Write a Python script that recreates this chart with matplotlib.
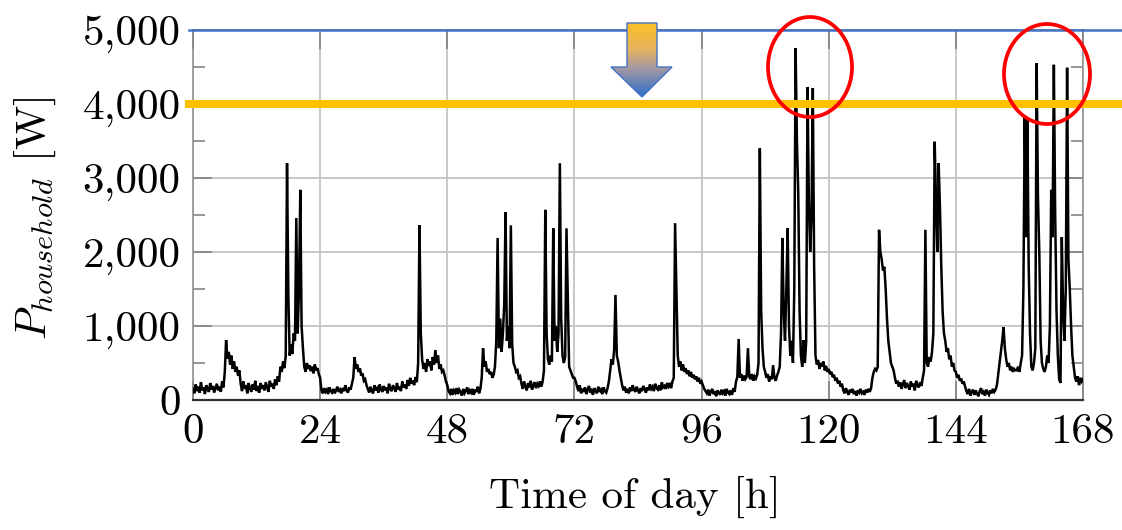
import numpy as np
import matplotlib
matplotlib.use("Agg")
import matplotlib.pyplot as plt
from matplotlib.patches import Ellipse, Polygon
from matplotlib.colors import LinearSegmentedColormap

# ---------------- data (household power, W, sampled every 0.25 h) ----------------
step_h = 0.25
day0 = [150, 90, 210, 120, 180, 100, 240, 130, 170, 80, 200, 150, 110, 230, 140, 190, 100, 160, 220, 130, 180, 110, 250, 170,
        380, 810, 560, 650, 480, 600, 420, 520, 380, 450, 330, 400,
        220, 120, 250, 150, 200, 90, 230, 160, 110, 210, 140, 260, 120, 190, 100, 230, 150, 200, 130, 240, 170, 110, 260, 180, 220, 150, 280, 200,
        320, 250, 450, 380, 520, 430,
        600, 3200, 1400, 600, 750, 620, 900, 800, 2460, 900, 1450, 2840, 1000, 700,
        450, 380, 500, 420, 470, 390, 450, 360, 480, 400, 430, 350]
day1 = [300, 130, 90, 160, 110, 140, 80, 170, 120, 100, 150, 90, 130, 180, 110, 140, 90, 160, 120, 200, 130, 100, 170, 140,
        220, 300, 580, 420, 480, 380, 430, 330, 360, 260, 280, 200,
        150, 100, 180, 120, 90, 200, 130, 160, 100, 210, 140, 110, 190, 130, 170, 90, 220, 150, 120, 200, 160, 110, 230, 140, 180, 120, 250, 170, 210, 150, 270, 190,
        300, 220, 260, 200, 310, 240,
        500, 2360, 900, 550,
        420, 500, 380, 550, 460, 520, 400, 580, 480, 675, 500, 600, 420, 480, 380, 400, 330, 250]
day2 = [200, 120, 90, 150, 70, 130, 100, 160, 80, 140, 110, 60, 150, 90, 120, 170, 80, 130, 100, 150, 70, 140, 110, 180, 90, 150,
        300, 700, 450, 520, 380, 420, 350, 380, 300, 340,
        450, 800, 2190, 700, 1100, 650, 900, 1300, 2540, 800, 1000, 700, 2360, 750, 500,
        450, 380, 400, 300, 320,
        220, 150, 250, 180, 130, 230, 170, 260, 140, 200, 240, 160, 220, 190, 250, 180,
        250, 400, 2570, 900, 550, 480, 600, 520, 2320, 800, 1000, 650, 900, 3200, 1100, 600, 500, 580, 2320, 1400, 450, 400, 350, 300]
day3 = [300, 250, 180, 120, 200, 90, 150, 110, 170, 80, 140, 190, 100, 130, 70, 160, 120, 90, 180, 110, 140, 80, 170, 120, 100, 160,
        250, 400, 550, 480, 680, 1420, 600, 520, 400, 300,
        200, 130, 180, 100, 150, 90, 170, 120, 200, 140, 110, 180, 130, 90, 160, 120, 190, 150, 100, 170, 130, 210, 150, 180, 120, 220,
        160, 140, 200, 130, 240, 170, 190, 150, 230, 180, 210, 160, 250,
        300, 2390, 1500, 600, 450, 520, 400, 480, 380, 430, 350, 400, 320, 380, 300, 340, 280, 320, 250, 300, 220]
day4 = [250, 200, 150, 120,
        90, 140, 60, 110, 150, 80, 120, 50, 130, 100, 70, 140, 90, 120, 60, 150, 100, 80, 130, 70, 160, 110, 250,
        310, 825, 300, 350, 260, 330, 280, 310,
        700, 320, 280, 350, 260, 320, 290, 340,
        500, 3400, 1200, 700, 450,
        380, 300, 350, 250, 320, 280, 470, 300, 260, 330, 380, 450,
        900, 2190, 1200, 800, 1500, 2320, 1000, 600, 800, 500,
        1500, 4755, 3500, 2800, 1200, 600,
        450, 810, 500, 800,
        4230, 2700, 2000, 2500, 4215, 1800,
        600, 480, 540, 420, 500, 450, 520, 400, 460, 380]
day5 = [420, 350, 380, 310, 340, 260, 300, 220, 260, 180, 220,
        130, 90, 160, 110, 70, 140, 100, 150, 80, 120, 60, 130, 100, 150, 90, 110, 70, 140, 100, 150, 110, 160, 300, 380, 420,
        400, 450, 2300, 2000, 1900, 1750, 1800, 1500, 1100, 800, 650, 500, 450, 400,
        300, 220, 260, 180, 240, 150, 210, 270, 160, 230, 190, 140, 250, 180, 220, 130, 260, 200, 170, 240, 190, 300,
        400, 2300, 500, 450, 580, 520, 650, 900, 3490, 2700, 2000, 3200, 2600, 1800, 1200, 900,
        800, 650, 700, 550, 600, 450, 500, 400]
day6 = [380, 300, 340, 260, 290, 220, 250, 180,
        120, 80, 150, 60, 110, 140, 70, 130, 90, 50, 120, 160, 80, 110, 60, 140, 100, 70, 130, 90, 150, 110, 140,
        200, 350, 500, 650, 800, 985, 700, 550, 450, 500, 400, 450, 380, 420, 400,
        400, 450, 380, 500,
        600, 1500, 3810, 2200, 3780, 1800, 900, 450, 400,
        500, 700, 4550, 2740, 2000, 800, 500, 420, 380,
        450, 600, 500, 1000, 2840, 2200, 4530, 2500, 1200, 600,
        280, 230, 2200, 1200, 800, 1500, 4490, 1900, 1500, 1000, 600, 450,
        300, 250, 320, 200, 300, 250]
end_value = [280]

x_ticks = [0, 24, 48, 72, 96, 120, 144, 168]
x_tick_labels = ["0", "24", "48", "72", "96", "120", "144", "168"]
y_ticks = [0, 1000, 2000, 3000, 4000, 5000]
y_tick_labels = ["0", "1,000", "2,000", "3,000", "4,000", "5,000"]
y_minor_ticks = [500, 1500, 2500, 3500, 4500]
upper_limit = 5000
threshold = 4000

power = np.array(day0 + day1 + day2 + day3 + day4 + day5 + day6 + end_value, dtype=float)
hours = np.arange(len(power)) * step_h

# ---------------- figure ----------------
plt.rcParams['font.family'] = 'cmr10'
plt.rcParams['mathtext.fontset'] = 'cm'
plt.rcParams['axes.formatter.use_mathtext'] = True

W, H = 1122, 530
fig = plt.figure(figsize=(W / 100, H / 100), dpi=100)
ax = fig.add_axes([193 / W, 1 - 400 / H, 890 / W, 370 / H])

ax.plot(hours, power, color='black', lw=1.8, zorder=3, solid_joinstyle='miter')
ax.set_xlim(0, 168)
ax.set_ylim(0, 5000)

ax.set_xticks(x_ticks)
ax.set_xticklabels(x_tick_labels, fontsize=31)
ax.set_yticks(y_ticks)
ax.set_yticklabels(y_tick_labels, fontsize=31)
ax.set_yticks(y_minor_ticks, minor=True)

ax.grid(True, which='major', color='#c4c4c4', lw=1.3, zorder=1)
ax.tick_params(which='major', direction='in', length=14, width=1.1, color='#7a7a7a',
               top=True, right=True, bottom=True, left=True, pad=9)
ax.tick_params(which='minor', direction='in', length=8.5, width=1.1, color='#7a7a7a',
               left=True, right=True)
ax.tick_params(axis='x', pad=10)
for s in ['left', 'right', 'top']:
    ax.spines[s].set_color('#8a8a8a')
    ax.spines[s].set_linewidth(1.1)
ax.spines['bottom'].set_color('#303030')
ax.spines['bottom'].set_linewidth(1.6)

# reference lines extending beyond the plot frame
ax.axhline(upper_limit, xmin=-0.005, xmax=1.05, color='#4472C4', lw=1.8, clip_on=False, zorder=5)
ax.axhline(threshold, xmin=-0.005, xmax=1.05, color='#FFC000', lw=5.8, clip_on=False, zorder=5)

fig.text(635 / W, 1 - 497 / H, 'Time of day [h]', fontsize=31, ha='center', va='center')
fig.text(35 / W, 1 - 218 / H, r'$P_{household}$ [W]', fontsize=31, ha='center', va='center', rotation=90)

# ---------------- annotation overlay (pixel coordinates) ----------------
ov = fig.add_axes([0, 0, 1, 1], zorder=10)
ov.set_xlim(0, W)
ov.set_ylim(H, 0)
ov.axis('off')
ov.patch.set_alpha(0)

arrow_pts = [(627, 23), (657, 23), (657, 67), (672, 67), (642, 97), (611, 67), (627, 67)]
cmap = LinearSegmentedColormap.from_list('arr', [(0.0, '#FDC02A'), (0.35, '#E6B25C'),
                                                  (0.6, '#A99AA2'), (1.0, '#2A6FC8')])
grad = np.linspace(0, 1, 200).reshape(-1, 1)
im = ov.imshow(grad, cmap=cmap, extent=[611, 672, 97, 23], origin='upper', aspect='auto', zorder=11)
poly = Polygon(arrow_pts, closed=True, fill=False, ec='#4472C4', lw=1.0, zorder=12)
ov.add_patch(poly)
im.set_clip_path(poly)
ov.set_xlim(0, W)
ov.set_ylim(H, 0)

ov.add_patch(Ellipse((810, 67), 84, 100, fill=False, ec='#FF0000', lw=2.7, zorder=12))
ov.add_patch(Ellipse((1047, 74), 86, 100, fill=False, ec='#FF0000', lw=2.7, zorder=12))

fig.savefig('out.png', dpi=100)
